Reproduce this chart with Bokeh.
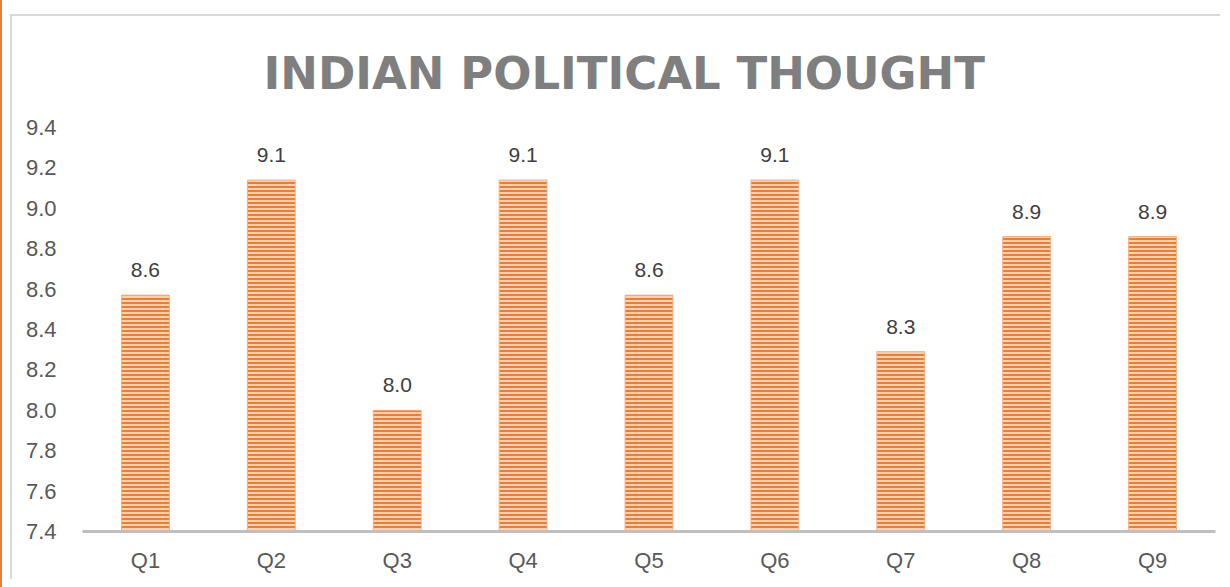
from bokeh.plotting import figure
from bokeh.models import FixedTicker, NumeralTickFormatter, ColumnDataSource, Title
from bokeh.core.properties import value
from bokeh.embed import file_html
from bokeh.resources import INLINE

categories = ["Q1", "Q2", "Q3", "Q4", "Q5", "Q6", "Q7", "Q8", "Q9"]
scores = [8.57, 9.14, 8.00, 9.14, 8.57, 9.14, 8.29, 8.86, 8.86]
y_ticks = [7.4, 7.6, 7.8, 8.0, 8.2, 8.4, 8.6, 8.8, 9.0, 9.2, 9.4]
title_text = "INDIAN POLITICAL THOUGHT"

labels = ["%.1f" % v for v in scores]
src = ColumnDataSource(dict(x=categories, top=scores, lab=labels))

W, H = 1210, 565
p = figure(x_range=categories, y_range=(7.4, 9.4), width=W, height=H,
           output_backend="svg", toolbar_location=None,
           min_border_left=70, min_border_right=7, min_border_top=110,
           min_border_bottom=50)
p.margin = (14, 0, 0, 10)
p.styles = {"border-top": "2px solid #D9D9D9", "border-left": "2px solid #D9D9D9",
            "box-shadow": "6px 0 0 14px #FFFFFF, 4px 0 0 14px #ED7D31"}
p.outline_line_color = None
p.background_fill_color = "white"
p.border_fill_color = "white"
p.xgrid.grid_line_color = None
p.ygrid.grid_line_color = None

p.vbar(x="x", top="top", bottom=7.4, width=0.38, source=src,
       fill_color="#F9D2B6", line_color="#F4B183", line_width=1,
       hatch_pattern="horizontal_line", hatch_color="#ED7D31",
       hatch_scale=4, hatch_weight=2)

p.text(x="x", y="top", text="lab", source=src, text_align="center",
       text_baseline="alphabetic", y_offset=-25,
       text_font=value("Liberation Sans"), text_font_size="21px",
       text_color="#404040")

p.yaxis.ticker = FixedTicker(ticks=y_ticks)
p.yaxis.formatter = NumeralTickFormatter(format="0.0")
p.yaxis.axis_line_color = None
p.yaxis.major_tick_line_color = None
p.yaxis.minor_tick_line_color = None
p.yaxis.major_label_text_font = "Liberation Sans"
p.yaxis.major_label_text_font_size = "22px"
p.yaxis.major_label_text_color = "#595959"
p.yaxis.major_label_standoff = 20

p.xaxis.axis_line_color = "#BFBFBF"
p.xaxis.axis_line_width = 3
p.xaxis.major_tick_line_color = None
p.xaxis.minor_tick_line_color = None
p.xaxis.major_label_text_font = "Liberation Sans"
p.xaxis.major_label_text_font_size = "22px"
p.xaxis.major_label_text_color = "#595959"
p.xaxis.major_label_standoff = 10

t = Title(text=title_text, align="left", offset=181, standoff=56,
          text_font="DejaVu Sans", text_font_style="bold",
          text_font_size="45px", text_color="#7F7F7F")
p.add_layout(t, "above")

open("out.html", "w").write(file_html(p, INLINE))
